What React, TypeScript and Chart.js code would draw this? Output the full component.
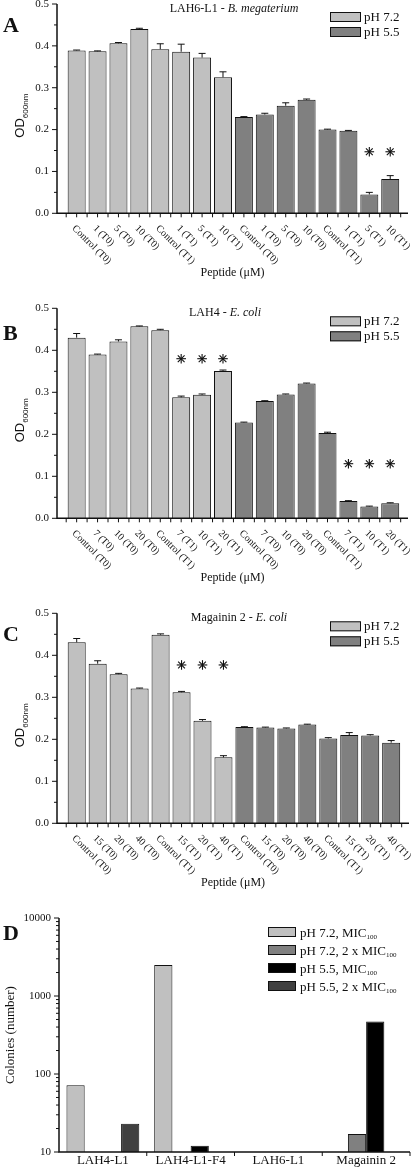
import React, { useEffect, useRef } from 'react';
import { Chart, registerables } from 'chart.js';

Chart.register(...registerables);

const SERIF = '"Liberation Serif", "Times New Roman", serif';
const SANS = '"Liberation Sans", Arial, sans-serif';
const LIGHT = '#c0c0c0';
const DARK = '#808080';
const INK = '#111111';

// ---------- Panels A–C (OD600nm bar charts) ----------
const odSeriesNames = ['pH 7.2', 'pH 5.5'];
const odTicks = [0, 0.1, 0.2, 0.3, 0.4, 0.5];

const labelsA = ['Control (T0)', '1 (T0)', '5 (T0)', '10 (T0)', 'Control (T1)', '1 (T1)', '5 (T1)', '10 (T1)',
  'Control (T0)', '1 (T0)', '5 (T0)', '10 (T0)', 'Control (T1)', '1 (T1)', '5 (T1)', '10 (T1)'];
const a72 = [0.389, 0.387, 0.406, 0.440, 0.392, 0.386, 0.372, 0.325];
const a72Err = [0.001, 0.001, 0.002, 0.002, 0.013, 0.018, 0.010, 0.013];
const a55 = [0.230, 0.236, 0.257, 0.271, 0.200, 0.197, 0.045, 0.082];
const a55Err = [0.001, 0.003, 0.007, 0.002, 0.001, 0.001, 0.005, 0.008];
const starsAIdx = [15, 16];
const starsALevel = [0.147, 0.147];

const labelsB = ['Control (T0)', '7 (T0)', '10 (T0)', '20 (T0)', 'Control (T1)', '7 (T1)', '10 (T1)', '20 (T1)',
  'Control (T0)', '7 (T0)', '10 (T0)', '20 (T0)', 'Control (T1)', '7 (T1)', '10 (T1)', '20 (T1)'];
const b72 = [0.430, 0.390, 0.421, 0.457, 0.448, 0.288, 0.294, 0.351];
const b72Err = [0.010, 0.001, 0.004, 0.001, 0.002, 0.003, 0.002, 0.002];
const b55 = [0.228, 0.279, 0.295, 0.321, 0.203, 0.041, 0.028, 0.036];
const b55Err = [0.001, 0.001, 0.001, 0.001, 0.002, 0.001, 0.001, 0.001];
const starsBIdx = [6, 7, 8, 14, 15, 16];
const starsBLevel = [0.38, 0.38, 0.38, 0.13, 0.13, 0.13];

const labelsC = ['Control (T0)', '15 (T0)', '20 (T0)', '40 (T0)', 'Control (T1)', '15 (T1)', '20 (T1)', '40 (T1)',
  'Control (T0)', '15 (T0)', '20 (T0)', '40 (T0)', 'Control (T1)', '15 (T1)', '20 (T1)', '40 (T1)'];
const c72 = [0.431, 0.380, 0.355, 0.321, 0.449, 0.312, 0.244, 0.157];
const c72Err = [0.009, 0.007, 0.002, 0.001, 0.002, 0.002, 0.003, 0.004];
const c55 = [0.229, 0.228, 0.226, 0.235, 0.202, 0.210, 0.209, 0.192];
const c55Err = [0.001, 0.001, 0.001, 0.001, 0.002, 0.006, 0.002, 0.005];
const starsCIdx = [6, 7, 8];
const starsCLevel = [0.377, 0.377, 0.377];

// ---------- Panel D (colonies, log scale) ----------
const dCategories = ['LAH4-L1', 'LAH4-L1-F4', 'LAH6-L1', 'Magainin 2'];
const dSeriesNames = ['pH 7.2, MIC', 'pH 7.2, 2 x MIC', 'pH 5.5, MIC', 'pH 5.5, 2 x MIC'];
const dSeriesSub = '100';
const d72Mic = [72, 2500, null, null];
const d72Mic2 = [null, null, null, 17];
const d55Mic = [null, 12, null, 470];
const d55Mic2 = [23, null, null, null];
const dTicks = [10, 100, 1000, 10000];
const dColors = ['#c0c0c0', '#808080', '#000000', '#404040'];

type Seg = { t: string; italic?: boolean };

function line(ctx: CanvasRenderingContext2D, x1: number, y1: number, x2: number, y2: number) {
  ctx.beginPath();
  ctx.moveTo(x1, y1);
  ctx.lineTo(x2, y2);
  ctx.stroke();
}

function drawSegs(ctx: CanvasRenderingContext2D, segs: Seg[], cx: number, y: number, size: number) {
  const fonts = segs.map((s) => `${s.italic ? 'italic ' : ''}${size}px ${SERIF}`);
  let total = 0;
  segs.forEach((s, i) => { ctx.font = fonts[i]; total += ctx.measureText(s.t).width; });
  let x = cx - total / 2;
  ctx.textAlign = 'left';
  ctx.textBaseline = 'middle';
  segs.forEach((s, i) => { ctx.font = fonts[i]; ctx.fillText(s.t, x, y); x += ctx.measureText(s.t).width; });
}

function drawStar(ctx: CanvasRenderingContext2D, x: number, y: number, r: number) {
  for (let k = 0; k < 4; k++) {
    const ang = (k * Math.PI) / 4;
    line(ctx, x - r * Math.cos(ang), y - r * Math.sin(ang), x + r * Math.cos(ang), y + r * Math.sin(ang));
  }
}

type OdSpec = {
  letter: string; title: Seg[]; labels: string[];
  v72: number[]; e72: number[]; v55: number[]; e55: number[];
  starIdx: number[]; starLevel: number[];
};
type OdLayout = {
  h: number; left: number; right: number; top: number; bottom: number;
  titleX: number; letterDy: number;
};

function odDecor(s: OdSpec, L: OdLayout) {
  return {
    id: 'odDecor',
    afterDatasetsDraw(chart: any) {
      const ctx: CanvasRenderingContext2D = chart.ctx;
      const a = chart.chartArea;
      const xs = chart.scales.x;
      const ys = chart.scales.y;
      ctx.save();
      ctx.strokeStyle = INK;
      ctx.fillStyle = INK;
      ctx.lineWidth = 1;
      // error bars
      const drawErr = (vals: number[], errs: number[], off: number) => {
        vals.forEach((v, i) => {
          const px = xs.getPixelForValue(i + off);
          const y0 = ys.getPixelForValue(v);
          const y1 = ys.getPixelForValue(v + errs[i]);
          line(ctx, px, y0, px, y1);
          line(ctx, px - 3.5, y1, px + 3.5, y1);
        });
      };
      drawErr(s.v72, s.e72, 1);
      drawErr(s.v55, s.e55, 9);
      // stars
      ctx.lineWidth = 1.1;
      s.starIdx.forEach((idx, i) => {
        drawStar(ctx, xs.getPixelForValue(idx), ys.getPixelForValue(s.starLevel[i]), 4.8);
      });
      // axes
      ctx.lineWidth = 1.5;
      ctx.beginPath();
      ctx.moveTo(a.left, a.top);
      ctx.lineTo(a.left, a.bottom);
      ctx.lineTo(a.right, a.bottom);
      ctx.stroke();
      ctx.lineWidth = 1;
      // y ticks
      ctx.font = `11px ${SERIF}`;
      ctx.textAlign = 'right';
      ctx.textBaseline = 'middle';
      odTicks.forEach((v, i) => {
        const y = ys.getPixelForValue(v);
        line(ctx, a.left - 5, y, a.left, y);
        ctx.fillText(v.toFixed(1), a.left - 8, y);
        if (i < odTicks.length - 1) {
          const ym = ys.getPixelForValue((v + odTicks[i + 1]) / 2);
          line(ctx, a.left - 3, ym, a.left, ym);
        }
      });
      // x ticks
      for (let k = 1; k <= 33; k++) {
        const px = xs.getPixelForValue(k / 2);
        line(ctx, px, a.bottom, px, a.bottom + 4);
      }
      // x labels rotated 45deg clockwise
      ctx.font = `10px ${SERIF}`;
      ctx.textAlign = 'left';
      ctx.textBaseline = 'top';
      s.labels.forEach((lab, i) => {
        const px = xs.getPixelForValue(i + 1);
        ctx.save();
        ctx.translate(px + 0.5, a.bottom + 10);
        ctx.rotate(Math.PI / 4);
        ctx.fillText(lab, 0, 0);
        ctx.restore();
      });
      // x axis title
      drawSegs(ctx, [{ t: 'Peptide (\u03bcM)' }], (a.left + a.right) / 2, a.bottom + 60, 12);
      // title
      drawSegs(ctx, s.title, L.titleX, a.top + 4.5, 12);
      // legend
      odSeriesNames.forEach((name, i) => {
        const bx = 330;
        const by = a.top + 8 + i * 15;
        ctx.fillStyle = i === 0 ? LIGHT : DARK;
        ctx.fillRect(bx, by, 31, 10);
        ctx.strokeStyle = INK;
        ctx.strokeRect(bx + 0.5, by + 0.5, 30, 9);
        ctx.fillStyle = INK;
        ctx.font = `13px ${SERIF}`;
        ctx.textAlign = 'left';
        ctx.textBaseline = 'middle';
        ctx.fillText(name, bx + 34, by + 5.5);
      });
      // panel letter
      ctx.font = `bold 22px ${SERIF}`;
      ctx.textAlign = 'left';
      ctx.textBaseline = 'alphabetic';
      ctx.fillText(s.letter, 3, a.top + L.letterDy);
      // y title OD600nm
      ctx.save();
      const cy = (a.top + a.bottom) / 2 + 7;
      ctx.translate(24, cy);
      ctx.rotate(-Math.PI / 2);
      ctx.font = `13px ${SANS}`;
      const w1 = ctx.measureText('OD').width;
      ctx.font = `8px ${SANS}`;
      const w2 = ctx.measureText('600nm').width;
      const x0 = -(w1 + w2) / 2;
      ctx.textAlign = 'left';
      ctx.textBaseline = 'alphabetic';
      ctx.font = `13px ${SANS}`;
      ctx.fillText('OD', x0, 0);
      ctx.font = `8px ${SANS}`;
      ctx.fillText('600nm', x0 + w1, 3.5);
      ctx.restore();
      ctx.restore();
    },
  };
}

function odConfig(s: OdSpec, L: OdLayout): any {
  const pts72 = s.v72.map((v, i) => ({ x: i + 1, y: v }));
  const pts55 = s.v55.map((v, i) => ({ x: i + 9, y: v }));
  const common = { borderColor: INK, borderWidth: 1, grouped: false, barPercentage: 0.86, categoryPercentage: 1 };
  return {
    type: 'bar',
    data: {
      datasets: [
        { label: odSeriesNames[0], data: pts72, backgroundColor: LIGHT, ...common },
        { label: odSeriesNames[1], data: pts55, backgroundColor: DARK, ...common },
      ],
    },
    options: {
      responsive: false,
      animation: false,
      devicePixelRatio: 1,
      layout: { padding: { left: L.left, top: L.top, right: 412 - L.right, bottom: L.h - L.bottom } },
      scales: {
        x: { type: 'linear', offset: false, min: 0.06, max: 16.85, display: false, ticks: { stepSize: 1, includeBounds: false } },
        y: { type: 'linear', min: 0, max: 0.5, display: false },
      },
      plugins: { legend: { display: false }, tooltip: { enabled: false } },
    },
    plugins: [odDecor(s, L)],
  };
}

type DLayout = { h: number; left: number; right: number; top: number; bottom: number };

function dDecor(L: DLayout) {
  return {
    id: 'dDecor',
    afterDatasetsDraw(chart: any) {
      const ctx: CanvasRenderingContext2D = chart.ctx;
      const a = chart.chartArea;
      const xs = chart.scales.x;
      const ys = chart.scales.y;
      ctx.save();
      ctx.strokeStyle = INK;
      ctx.fillStyle = INK;
      ctx.lineWidth = 1.5;
      ctx.beginPath();
      ctx.moveTo(a.left, a.top);
      ctx.lineTo(a.left, a.bottom);
      ctx.lineTo(a.right, a.bottom);
      ctx.stroke();
      ctx.lineWidth = 1;
      // y ticks
      ctx.font = `11px ${SERIF}`;
      ctx.textAlign = 'right';
      ctx.textBaseline = 'middle';
      dTicks.forEach((v, i) => {
        const y = ys.getPixelForValue(v);
        line(ctx, a.left - 5, y, a.left, y);
        ctx.fillText(String(v), a.left - 8, y);
        if (i < dTicks.length - 1) {
          for (let m = 2; m <= 9; m++) {
            const ym = ys.getPixelForValue(v * m);
            line(ctx, a.left - 3, ym, a.left, ym);
          }
        }
      });
      // x ticks at category boundaries
      const slot = (a.right - a.left) / dCategories.length;
      for (let i = 1; i <= dCategories.length; i++) {
        const px = a.left + i * slot;
        line(ctx, px, a.bottom, px, a.bottom + 4);
      }
      // x labels
      ctx.font = `13px ${SERIF}`;
      ctx.textAlign = 'center';
      ctx.textBaseline = 'middle';
      dCategories.forEach((c, i) => ctx.fillText(c, xs.getPixelForValue(i), a.bottom + 9));
      // legend
      dSeriesNames.forEach((name, i) => {
        const bx = 268;
        const by = a.top + 9 + i * 18;
        ctx.fillStyle = dColors[i];
        ctx.fillRect(bx, by, 28, 10);
        ctx.strokeStyle = INK;
        ctx.strokeRect(bx + 0.5, by + 0.5, 27, 9);
        ctx.fillStyle = INK;
        ctx.textAlign = 'left';
        ctx.textBaseline = 'alphabetic';
        ctx.font = `13px ${SERIF}`;
        ctx.fillText(name, bx + 32, by + 9.5);
        const w = ctx.measureText(name).width;
        ctx.font = `7px ${SERIF}`;
        ctx.fillText(dSeriesSub, bx + 32 + w, by + 12);
      });
      // letter
      ctx.font = `bold 22px ${SERIF}`;
      ctx.textAlign = 'left';
      ctx.textBaseline = 'alphabetic';
      ctx.fillText('D', 3, a.top + 22);
      // y title
      ctx.save();
      ctx.translate(14, (a.top + a.bottom) / 2);
      ctx.rotate(-Math.PI / 2);
      ctx.font = `13px ${SERIF}`;
      ctx.textAlign = 'center';
      ctx.textBaseline = 'alphabetic';
      ctx.fillText('Colonies (number)', 0, 0);
      ctx.restore();
      ctx.restore();
    },
  };
}

function dConfig(L: DLayout): any {
  const series = [d72Mic, d72Mic2, d55Mic, d55Mic2];
  return {
    type: 'bar',
    data: {
      labels: dCategories,
      datasets: series.map((data, i) => ({
        label: dSeriesNames[i] + dSeriesSub,
        data,
        backgroundColor: dColors[i],
        borderColor: INK,
        borderWidth: 1,
        barPercentage: 1,
        categoryPercentage: 0.83,
      })),
    },
    options: {
      responsive: false,
      animation: false,
      devicePixelRatio: 1,
      layout: { padding: { left: L.left, top: L.top, right: 412 - L.right, bottom: L.h - L.bottom } },
      scales: {
        x: { type: 'category', offset: true, display: false },
        y: { type: 'logarithmic', min: 10, max: 10000, display: false },
      },
      plugins: { legend: { display: false }, tooltip: { enabled: false } },
    },
    plugins: [dDecor(L)],
  };
}

function Panel({ top, height, build }: { top: number; height: number; build: () => any }) {
  const ref = useRef<HTMLCanvasElement>(null);
  useEffect(() => {
    const chart = new Chart(ref.current as HTMLCanvasElement, build());
    return () => chart.destroy();
  }, []);
  return (
    <canvas
      ref={ref}
      width={412}
      height={height}
      style={{ position: 'absolute', left: 0, top, width: 412, height, display: 'block' }}
    />
  );
}

const specA: OdSpec = {
  letter: 'A', title: [{ t: 'LAH6-L1 - ' }, { t: 'B. megaterium', italic: true }], labels: labelsA,
  v72: a72, e72: a72Err, v55: a55, e55: a55Err, starIdx: starsAIdx, starLevel: starsALevel,
};
const specB: OdSpec = {
  letter: 'B', title: [{ t: 'LAH4 - ' }, { t: 'E. coli', italic: true }], labels: labelsB,
  v72: b72, e72: b72Err, v55: b55, e55: b55Err, starIdx: starsBIdx, starLevel: starsBLevel,
};
const specC: OdSpec = {
  letter: 'C', title: [{ t: 'Magainin 2 - ' }, { t: 'E. coli', italic: true }], labels: labelsC,
  v72: c72, e72: c72Err, v55: c55, e55: c55Err, starIdx: starsCIdx, starLevel: starsCLevel,
};

const layA: OdLayout = { h: 290, left: 57, right: 408, top: 4, bottom: 213.3, titleX: 234, letterDy: 28 };
const layB: OdLayout = { h: 300, left: 57, right: 408, top: 18.3, bottom: 228.3, titleX: 225, letterDy: 32 };
const layC: OdLayout = { h: 310, left: 57, right: 409, top: 23.3, bottom: 233.3, titleX: 239, letterDy: 28 };
const layD: DLayout = { h: 272, left: 59, right: 410, top: 18, bottom: 252 };

export default function App() {
  return (
    <div style={{ position: 'absolute', left: 0, top: 0, width: 412, height: 1172, background: '#fff', overflow: 'hidden' }}>
      <Panel top={0} height={layA.h} build={() => odConfig(specA, layA)} />
      <Panel top={290} height={layB.h} build={() => odConfig(specB, layB)} />
      <Panel top={590} height={layC.h} build={() => odConfig(specC, layC)} />
      <Panel top={900} height={layD.h} build={() => dConfig(layD)} />
    </div>
  );
}
